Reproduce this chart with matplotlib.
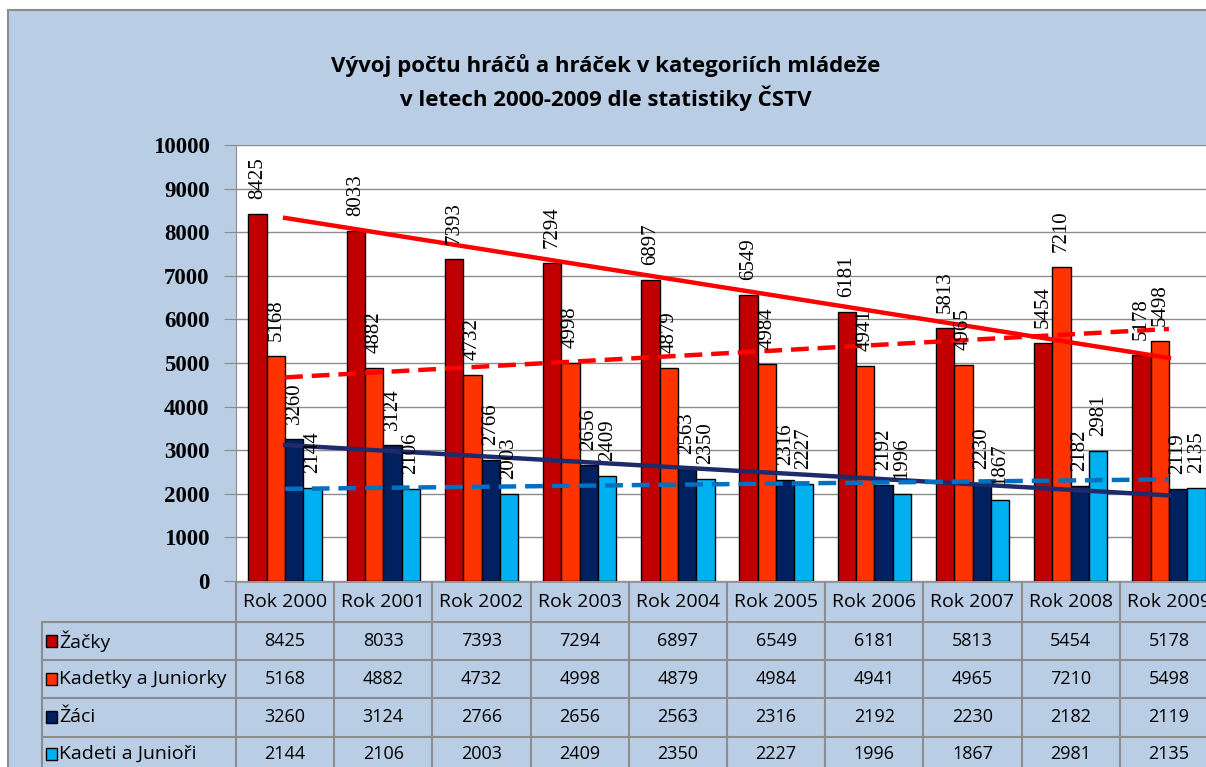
import matplotlib
matplotlib.use('Agg')
import matplotlib.pyplot as plt
import matplotlib.transforms as mtrans
from matplotlib.patches import Rectangle
import numpy as np

# ── Data ──────────────────────────────────────────────────────────────
years = ["Rok 2000", "Rok 2001", "Rok 2002", "Rok 2003", "Rok 2004",
         "Rok 2005", "Rok 2006", "Rok 2007", "Rok 2008", "Rok 2009"]
series_names = ["Žačky", "Kadetky a Juniorky", "Žáci", "Kadeti a Junioři"]
zacky = [8425, 8033, 7393, 7294, 6897, 6549, 6181, 5813, 5454, 5178]
kadetky = [5168, 4882, 4732, 4998, 4879, 4984, 4941, 4965, 7210, 5498]
zaci = [3260, 3124, 2766, 2656, 2563, 2316, 2192, 2230, 2182, 2119]
kadeti = [2144, 2106, 2003, 2409, 2350, 2227, 1996, 1867, 2981, 2135]

bar_colors = ["#C00000", "#FF3300", "#002060", "#00B0F0"]
trend_colors = ["#FF0000", "#FF0000", "#1F2A6B", "#0070C0"]
trend_styles = ["-", "--", "-", "--"]

W, H = 1206, 767
BG = "#B9CDE5"
GRID = "#8C8C8C"

fig = plt.figure(figsize=(W / 100, H / 100), dpi=100)
fig.patch.set_facecolor("white")

# chart area (light blue) with grey border, cut off at right/bottom
fig.patches.append(Rectangle((8 / W, -0.1), 1.2, 1 - 10 / H + 0.1,
                             transform=fig.transFigure, facecolor=BG,
                             edgecolor="#8C8C8C", linewidth=1.5, zorder=-5))

def fy(py):
    return 1 - py / H

# plot area: y from 145 px (10000) to 581 px (0), x from 236 px, 98.2 px per category
cat_w = 98.2
ax = fig.add_axes([236 / W, fy(581), cat_w * 10 / W, (581 - 145) / H])
ax.set_zorder(2)
ax.set_facecolor("white")

x = np.arange(len(years))
data = [zacky, kadetky, zaci, kadeti]
w = 0.187
for i, (vals, col) in enumerate(zip(data, bar_colors)):
    pos = x + (i - 1.5) * w
    ax.bar(pos, vals, w, color=col, edgecolor="black", linewidth=1, zorder=3)
    for p, v in zip(pos, vals):
        ax.annotate(f"{v}", (p, v), xytext=(0, 15), textcoords="offset pixels",
                    rotation=90, ha="center", va="bottom",
                    fontsize=15, family="Liberation Serif", zorder=5)

# linear trendlines
for vals, col, ls in zip(data, trend_colors, trend_styles):
    k, q = np.polyfit(x, vals, 1)
    if ls == "--":
        ax.plot(x, k * x + q, color=col, linewidth=3.2, zorder=4,
                dashes=(4, 2))
    else:
        ax.plot(x, k * x + q, color=col, linewidth=3.2, zorder=4)

ax.set_xlim(-0.5, 9.5)
ax.set_ylim(0, 10000)
ax.set_yticks(range(0, 10001, 1000))
ax.set_yticklabels([str(v) for v in range(0, 10001, 1000)],
                   fontsize=16.5, fontweight="bold", family="Liberation Serif")
ax.tick_params(axis="y", length=9, color=GRID, pad=10)
ax.set_xticks([])
ax.grid(axis="y", color=GRID, linewidth=1, zorder=0)
ax.set_axisbelow(True)
for s in ["top", "right", "bottom"]:
    ax.spines[s].set_visible(False)
ax.spines["left"].set_color(GRID)

# ── Data table under the plot ─────────────────────────────────────────
bt = mtrans.blended_transform_factory(ax.transData, fig.transFigure)
row_edges = [582, 622, 660, 698, 737]
row_mid = [602, 641, 679, 717, 754]
font = "Open Sans"
lsize = 14
nsize = 13

# horizontal lines
fig.add_artist(plt.Line2D([236 / W, 1.1], [fy(582)] * 2, color=GRID, lw=1.2,
                          transform=fig.transFigure))
for py in row_edges[1:]:
    fig.add_artist(plt.Line2D([42 / W, 1.1], [fy(py)] * 2, color=GRID, lw=1.5,
                              transform=fig.transFigure))
# vertical lines
fig.add_artist(plt.Line2D([42 / W] * 2, [fy(622), 0], color=GRID, lw=1.5,
                          transform=fig.transFigure))
for k in range(len(years) + 1):
    fig.add_artist(plt.Line2D([k - 0.5] * 2, [fy(582), 0], color=GRID, lw=1.5,
                              transform=bt))

# header texts
for k, lab in enumerate(years):
    fig.text(k, fy(row_mid[0]), lab, transform=bt, ha="center", va="center",
             fontsize=lsize, family=font)

# series rows
for r, (name, vals, col) in enumerate(zip(series_names, data, bar_colors)):
    yc = fy(row_mid[r + 1])
    fig.patches.append(Rectangle((46 / W, yc - 6 / H), 11 / W, 12 / H,
                                 transform=fig.transFigure, facecolor=col,
                                 edgecolor="black", linewidth=1))
    fig.text(59 / W, yc, name, ha="left", va="center", fontsize=lsize,
             family=font)
    for k, v in enumerate(vals):
        fig.text(k, yc, f"{v}", transform=bt, ha="center", va="center",
                 fontsize=nsize, family=font)

# title
fig.text(606 / W, fy(66), "Vývoj počtu hráčů a hráček v kategoriích mládeže",
         ha="center", va="center", fontsize=16, fontweight="bold", family=font)
fig.text(606 / W, fy(98), "v letech 2000-2009 dle statistiky ČSTV",
         ha="center", va="center", fontsize=16, fontweight="bold", family=font)

fig.savefig("out.png", dpi=100)
